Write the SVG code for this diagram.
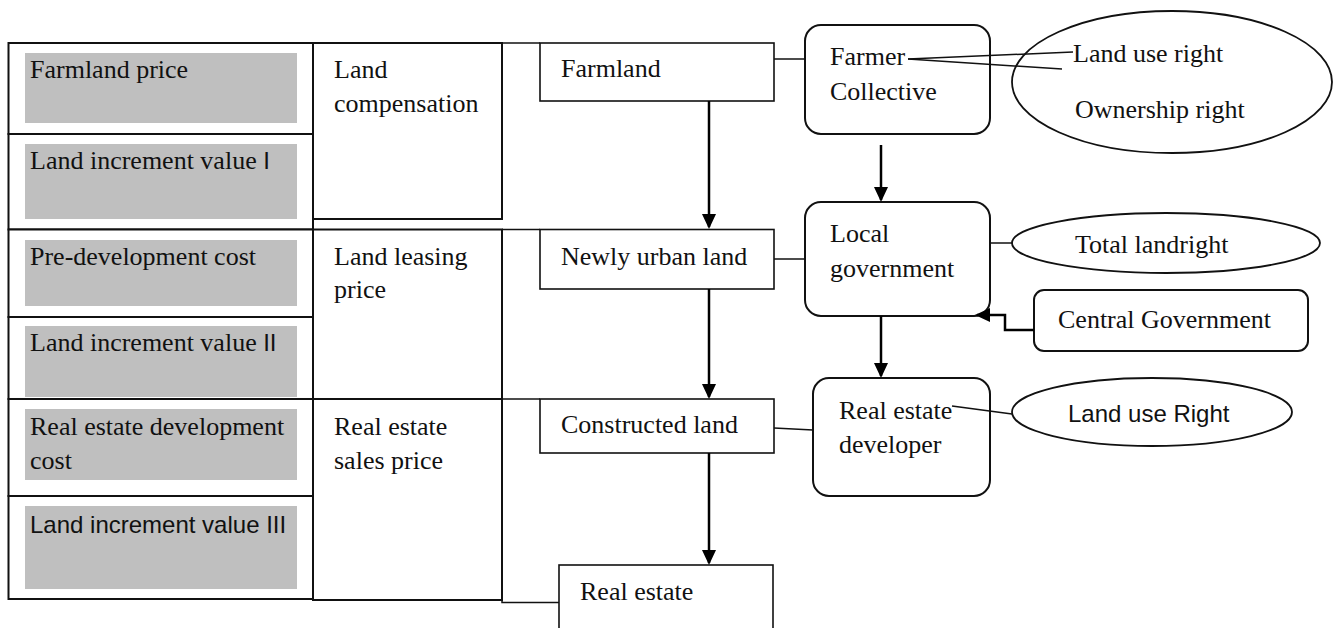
<svg xmlns="http://www.w3.org/2000/svg" width="1341" height="628" viewBox="0 0 1341 628">
<defs>
<marker id="ah" markerUnits="userSpaceOnUse" markerWidth="16" markerHeight="16" refX="13" refY="7" orient="auto">
<path d="M0,0 L15,7 L0,14 Z" fill="#000"/>
</marker>
<style>
.t{font-family:"Liberation Serif","Times New Roman",serif;font-size:26px;fill:#111}
.s{font-family:"Liberation Sans",Arial,sans-serif;font-size:24px;fill:#111}
.cell{fill:#fff;stroke:#111;stroke-width:2}
.g{fill:#bfbfbf}
.box{fill:#fff;stroke:#111;stroke-width:1.6}
.rbox{fill:#fff;stroke:#111;stroke-width:2}
.ell{fill:#fff;stroke:#111;stroke-width:1.8}
.ln{stroke:#111;stroke-width:1.5;fill:none}
.ar{stroke:#000;stroke-width:2.5;fill:none;marker-end:url(#ah)}
</style>
</defs>
<rect width="1341" height="628" fill="#fff"/>

<!-- Left table -->
<g id="farmland-price">
<rect class="cell" x="8.5" y="43" width="304.5" height="91"/>
<rect class="g" x="25" y="53" width="272" height="70"/>
<text class="t" x="30" y="78">Farmland price</text>
</g>
<g id="land-increment-1">
<rect class="cell" x="8.5" y="134" width="304.5" height="95.5"/>
<rect class="g" x="25" y="144" width="272" height="75"/>
<text class="t" x="30" y="169">Land increment value <tspan class="s" font-size="24">I</tspan></text>
</g>
<g id="land-compensation">
<rect class="cell" x="313" y="43" width="189" height="176"/>
<text class="t" x="334" y="78">Land</text>
<text class="t" x="334" y="112">compensation</text>
</g>
<g id="pre-development-cost">
<rect class="cell" x="8.5" y="229.5" width="304.5" height="87.5"/>
<rect class="g" x="25" y="240" width="272" height="66"/>
<text class="t" x="30" y="265">Pre-development cost</text>
</g>
<g id="land-increment-2">
<rect class="cell" x="8.5" y="317" width="304.5" height="82"/>
<rect class="g" x="25" y="326" width="272" height="71"/>
<text class="t" x="30" y="351">Land increment value <tspan class="s" font-size="24">II</tspan></text>
</g>
<g id="land-leasing-price">
<rect class="cell" x="313" y="229.5" width="189" height="169.5"/>
<text class="t" x="334" y="265">Land leasing</text>
<text class="t" x="334" y="298">price</text>
</g>
<g id="re-development-cost">
<rect class="cell" x="8.5" y="399" width="304.5" height="97"/>
<rect class="g" x="25" y="409" width="272" height="71"/>
<text class="t" x="30" y="435">Real estate development</text>
<text class="t" x="30" y="469">cost</text>
</g>
<g id="land-increment-3">
<rect class="cell" x="8.5" y="496" width="304.5" height="103"/>
<rect class="g" x="25" y="506" width="272" height="83"/>
<text class="s" x="30" y="533">Land increment value III</text>
</g>
<g id="re-sales-price">
<rect class="cell" x="313" y="399" width="189" height="201"/>
<text class="t" x="334" y="435">Real estate</text>
<text class="t" x="334" y="469">sales price</text>
</g>

<!-- Middle column -->
<g id="farmland">
<rect class="box" x="540" y="43" width="234" height="58"/>
<text class="t" x="561" y="77">Farmland</text>
</g>
<g id="newly-urban-land">
<rect class="box" x="540" y="229.5" width="234" height="59.5"/>
<text class="t" x="561" y="265">Newly urban land</text>
</g>
<g id="constructed-land">
<rect class="box" x="540" y="399" width="234" height="54"/>
<text class="t" x="561" y="433">Constructed land</text>
</g>
<g id="real-estate">
<rect class="box" x="559" y="565" width="214" height="90"/>
<text class="t" x="580" y="600">Real estate</text>
</g>

<!-- Right column -->
<g id="farmer-collective">
<rect class="rbox" x="805" y="25" width="185" height="109" rx="16"/>
<text class="t" x="830" y="65">Farmer</text>
<text class="t" x="830" y="100">Collective</text>
</g>
<g id="local-government">
<rect class="rbox" x="805" y="202" width="185" height="114" rx="16"/>
<text class="t" x="830" y="242">Local</text>
<text class="t" x="830" y="277">government</text>
</g>
<g id="real-estate-developer">
<rect class="rbox" x="813" y="378" width="177" height="118" rx="16"/>
<text class="t" x="839" y="419">Real estate</text>
<text class="t" x="839" y="453">developer</text>
</g>
<g id="central-government">
<rect class="rbox" x="1034" y="290" width="274" height="61" rx="10"/>
<text class="t" x="1058" y="328">Central Government</text>
</g>
<g id="rights-ellipse">
<ellipse class="ell" cx="1172" cy="82" rx="160" ry="71"/>
<text class="t" x="1073" y="62">Land use right</text>
<text class="t" x="1075" y="118">Ownership right</text>
</g>
<g id="total-landright">
<ellipse class="ell" cx="1166" cy="243" rx="154" ry="30"/>
<text class="t" x="1075" y="253">Total landright</text>
</g>
<g id="land-use-right">
<ellipse class="ell" cx="1152" cy="412" rx="140" ry="34"/>
<text class="s" x="1068" y="422" font-size="23">Land use Right</text>
</g>

<!-- Connectors -->
<g id="connectors">
<line class="ln" x1="502" y1="43" x2="540" y2="43"/>
<line class="ln" x1="502" y1="229.5" x2="540" y2="229.5"/>
<line class="ln" x1="502" y1="399" x2="540" y2="399"/>
<polyline class="ln" points="502,600 502,602.5 559,602.5"/>
<line class="ln" x1="774" y1="59" x2="805" y2="59"/>
<line class="ln" x1="774" y1="259" x2="805" y2="259"/>
<line class="ln" x1="774" y1="428" x2="813" y2="430"/>
<line class="ln" x1="990" y1="243" x2="1012" y2="243"/>
<line class="ln" x1="908" y1="59" x2="1073" y2="52"/>
<line class="ln" x1="908" y1="59" x2="1062" y2="69"/>
<line class="ln" x1="952" y1="406" x2="1012" y2="414"/>
<line class="ar" x1="709" y1="101" x2="709" y2="227"/>
<line class="ar" x1="709" y1="289" x2="709" y2="397"/>
<line class="ar" x1="709" y1="453" x2="709" y2="563"/>
<line class="ar" x1="881" y1="145" x2="881" y2="200"/>
<line class="ar" x1="881" y1="316" x2="881" y2="376"/>
<polyline class="ar" points="1034,330 1005,330 1005,315 977,315"/>
</g>
</svg>
